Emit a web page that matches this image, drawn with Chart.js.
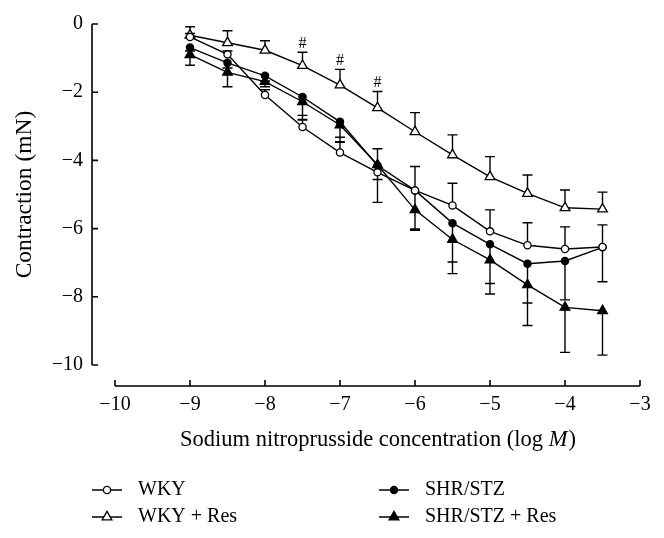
<!DOCTYPE html>
<html><head><meta charset="utf-8">
<script src="https://cdn.jsdelivr.net/npm/chart.js@4.4.0/dist/chart.umd.min.js"></script>
<style>html,body{margin:0;padding:0;background:#fff;}</style>
</head><body>
<canvas id="c" width="664" height="538"></canvas>
<script>
// ---- data ----
const concentrations = [-9, -8.5, -8, -7.5, -7, -6.5, -6, -5.5, -5, -4.5, -4, -3.5];
const wky        = [-0.38, -0.89, -2.08, -3.02, -3.77, -4.35, -4.88, -5.32, -6.08, -6.49, -6.60, -6.54];
const wkyErr     = [0.10, 0.10, 0.15, 0.20, 0.30, 0.69, 0.70, 0.65, 0.63, 0.66, 0.65, 0.65];
const wkyRes     = [-0.33, -0.55, -0.77, -1.22, -1.79, -2.46, -3.16, -3.84, -4.48, -4.97, -5.39, -5.43];
const wkyResErr  = [0.25, 0.35, 0.28, 0.39, 0.46, 0.48, 0.56, 0.59, 0.59, 0.54, 0.52, 0.50];
const shr        = [-0.69, -1.14, -1.52, -2.14, -2.87, -4.15, -4.88, -5.84, -6.46, -7.03, -6.95, -6.55];
const shrErr     = [0.10, 0.15, 0.15, 0.54, 0.45, 0.41, 1.17, 1.14, 1.15, 1.15, 1.14, 1.01];
const shrRes     = [-0.90, -1.42, -1.69, -2.28, -2.96, -4.13, -5.45, -6.32, -6.92, -7.65, -8.31, -8.41];
const shrResErr  = [0.31, 0.42, 0.15, 0.52, 0.49, 1.10, 0.56, 1.00, 1.00, 1.19, 1.32, 1.30];
const wkyResSig  = [false, false, false, true, true, true, false, false, false, false, false, false];
const xTicks = [-10, -9, -8, -7, -6, -5, -4, -3];
const xTickLabels = ['\u221210', '\u22129', '\u22128', '\u22127', '\u22126', '\u22125', '\u22124', '\u22123'];
const yTicks = [0, -2, -4, -6, -8, -10];
const yTickLabels = ['0', '\u22122', '\u22124', '\u22126', '\u22128', '\u221210'];
const seriesNames = ['WKY', 'WKY + Res', 'SHR/STZ', 'SHR/STZ + Res'];
const xTitle = ['Sodium nitroprusside concentration (log ', 'M', ')'];
const yTitle = 'Contraction (mN)';

// ---- styles ----
const FONT = '"Liberation Serif", "Times New Roman", serif';
const series = [
  {name: seriesNames[0], values: wky, err: wkyErr, dir: 1, style: 'circle', fill: '#fff', r: 3.6},
  {name: seriesNames[1], values: wkyRes, err: wkyResErr, dir: 1, style: 'triangle', fill: '#fff', r: 5.6},
  {name: seriesNames[2], values: shr, err: shrErr, dir: -1, style: 'circle', fill: '#000', r: 3.6},
  {name: seriesNames[3], values: shrRes, err: shrResErr, dir: -1, style: 'triangle', fill: '#000', r: 5.6}
];

const AXIS_GAP_X = 23, AXIS_GAP_Y = 21, TICK = 6, CAP = 5;

const custom = {
  id: 'custom',
  beforeDatasetsDraw(chart) {
    const {ctx, chartArea, scales: {x, y}} = chart;
    ctx.save();
    ctx.strokeStyle = '#000';
    ctx.lineWidth = 1.6;
    ctx.lineCap = 'butt';
    // y axis (detached)
    const ax = chartArea.left - AXIS_GAP_X;
    ctx.beginPath();
    ctx.moveTo(ax, y.getPixelForValue(yTicks[0]));
    ctx.lineTo(ax, y.getPixelForValue(yTicks[yTicks.length - 1]));
    yTicks.forEach(v => { const p = y.getPixelForValue(v); ctx.moveTo(ax, p); ctx.lineTo(ax + TICK, p); });
    // x axis (detached)
    const ay = chartArea.bottom + AXIS_GAP_Y;
    ctx.moveTo(x.getPixelForValue(xTicks[0]), ay);
    ctx.lineTo(x.getPixelForValue(xTicks[xTicks.length - 1]), ay);
    xTicks.forEach(v => { const p = x.getPixelForValue(v); ctx.moveTo(p, ay); ctx.lineTo(p, ay - TICK); });
    ctx.stroke();
    // error bars
    ctx.lineWidth = 1.4;
    ctx.beginPath();
    series.forEach(s => {
      concentrations.forEach((c, i) => {
        const px = x.getPixelForValue(c);
        const p0 = y.getPixelForValue(s.values[i]);
        const p1 = y.getPixelForValue(s.values[i] + s.dir * s.err[i]);
        ctx.moveTo(px, p0); ctx.lineTo(px, p1);
        ctx.moveTo(px - CAP, p1); ctx.lineTo(px + CAP, p1);
      });
    });
    ctx.stroke();
    ctx.restore();
  },
  afterDraw(chart) {
    const {ctx, chartArea, scales: {x, y}} = chart;
    ctx.save();
    ctx.fillStyle = '#000';
    // significance marks
    ctx.font = '16px ' + FONT;
    ctx.textAlign = 'center';
    ctx.textBaseline = 'middle';
    concentrations.forEach((c, i) => {
      if (!wkyResSig[i]) return;
      const px = x.getPixelForValue(c);
      const py = y.getPixelForValue(wkyRes[i] + wkyResErr[i]);
      ctx.fillText('#', px, py - 9);
    });
    // x title with italic M
    const tfont = '22.5px ' + FONT, tifont = 'italic 22.5px ' + FONT;
    ctx.font = tfont; const w0 = ctx.measureText(xTitle[0]).width; const w2 = ctx.measureText(xTitle[2]).width;
    ctx.font = tifont; const w1 = ctx.measureText(xTitle[1]).width;
    let tx = (x.getPixelForValue(xTicks[0]) + x.getPixelForValue(xTicks[xTicks.length - 1])) / 2 - (w0 + w1 + w2) / 2;
    const ty = chartArea.bottom + 75;
    ctx.textAlign = 'left'; ctx.textBaseline = 'middle';
    ctx.font = tfont; ctx.fillText(xTitle[0], tx, ty); tx += w0;
    ctx.font = tifont; ctx.fillText(xTitle[1], tx, ty); tx += w1 + 1;
    ctx.font = tfont; ctx.fillText(xTitle[2], tx, ty);
    // legend
    const cols = [92, 379], rows = [chartArea.bottom + 125, chartArea.bottom + 152];
    const order = [[0, 0, 0], [1, 0, 1], [2, 1, 0], [3, 1, 1]];
    ctx.font = '20px ' + FONT;
    order.forEach(([si, ci, ri]) => {
      const s = series[si];
      const lx = cols[ci], ly = rows[ri];
      ctx.strokeStyle = '#000'; ctx.lineWidth = 1.5;
      ctx.beginPath(); ctx.moveTo(lx, ly); ctx.lineTo(lx + 30, ly); ctx.stroke();
      ctx.fillStyle = s.fill; ctx.lineWidth = 1.3;
      Chart.helpers.drawPoint(ctx, {pointStyle: s.style, radius: s.r, borderWidth: 1.3, rotation: 0}, lx + 15, ly);
      ctx.fillStyle = '#000';
      ctx.textAlign = 'left'; ctx.textBaseline = 'middle';
      ctx.fillText(s.name, lx + 46, ly);
    });
    ctx.restore();
  }
};

const datasets = series.map(s => ({
  label: s.name,
  data: concentrations.map((c, i) => ({x: c, y: s.values[i]})),
  borderColor: '#000',
  borderWidth: 1.4,
  pointStyle: s.style,
  pointRadius: s.r,
  pointBorderWidth: 1.3,
  pointBorderColor: '#000',
  pointBackgroundColor: s.fill,
  showLine: true,
  tension: 0,
  fill: false
}));

new Chart(document.getElementById('c'), {
  type: 'scatter',
  data: {datasets},
  plugins: [custom],
  options: {
    responsive: false,
    animation: false,
    devicePixelRatio: 1,
    layout: {padding: {top: 24, right: 24, bottom: 90, left: 0}},
    plugins: {legend: {display: false}, tooltip: {enabled: false}},
    scales: {
      x: {
        type: 'linear', min: -10, max: -3,
        grid: {display: false, drawTicks: false},
        border: {display: false},
        afterBuildTicks: sc => { sc.ticks = xTicks.map(v => ({value: v})); },
        afterFit: sc => { sc.height = 83; sc.paddingLeft = 0; sc.paddingRight = 0; },
        ticks: {color: '#000', padding: 28, font: {family: FONT, size: 20}, callback: (v, i) => xTickLabels[i], maxRotation: 0, autoSkip: false}
      },
      y: {
        type: 'linear', min: -10, max: 0,
        grid: {display: false, drawTicks: false},
        border: {display: false},
        afterBuildTicks: sc => { sc.ticks = yTicks.slice().reverse().map(v => ({value: v})); },
        afterFit: sc => { sc.width = 115; sc.paddingTop = 0; sc.paddingBottom = 0; },
        title: {display: true, text: yTitle, color: '#000', font: {family: FONT, size: 23.5}, padding: {top: 11, bottom: 0}},
        ticks: {color: '#000', padding: 32, font: {family: FONT, size: 20}, callback: v => yTickLabels[yTicks.indexOf(v)], autoSkip: false}
      }
    }
  }
});
</script>
</body></html>
